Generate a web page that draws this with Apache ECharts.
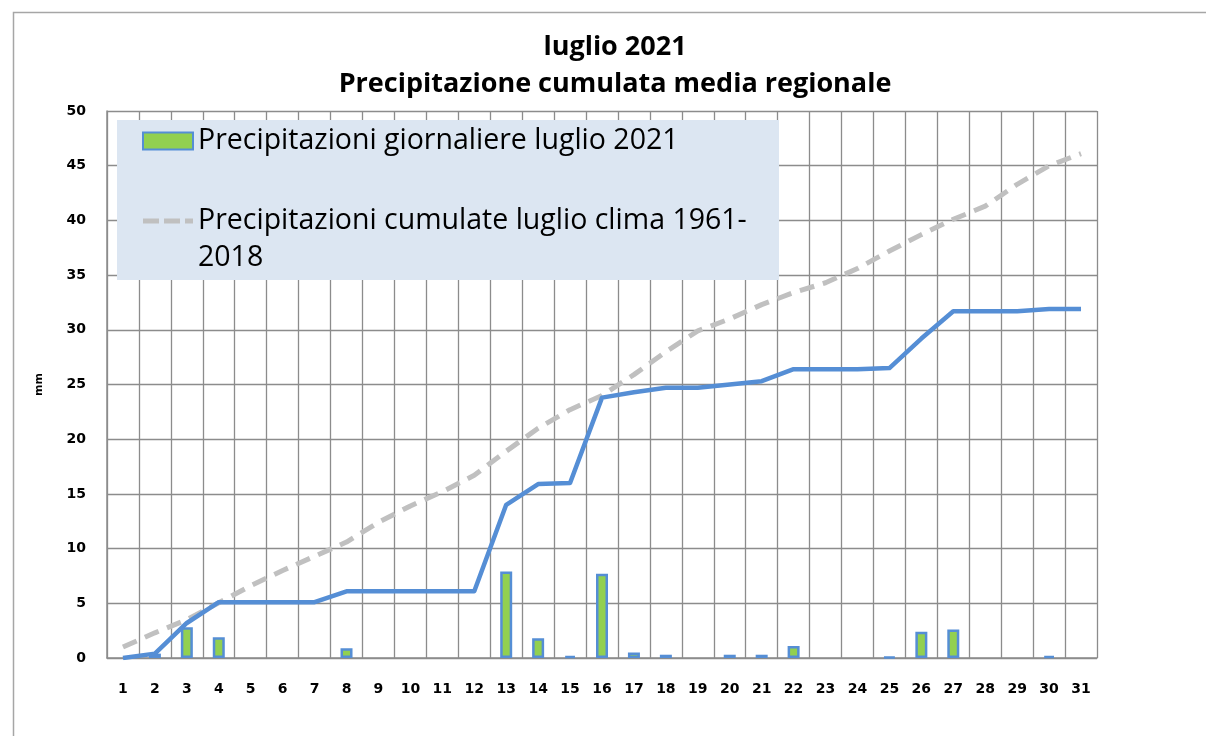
<!DOCTYPE html>
<html>
<head>
<meta charset="utf-8">
<script src="https://cdn.jsdelivr.net/npm/echarts@6/dist/echarts.min.js"></script>
<style>
html,body{margin:0;padding:0;background:#fff;}
#chart{width:1206px;height:736px;}
</style>
</head>
<body>
<div id="chart"></div>
<script>
// ---- data ----
const days = ['1','2','3','4','5','6','7','8','9','10','11','12','13','14','15','16','17','18','19','20','21','22','23','24','25','26','27','28','29','30','31'];
const dailyRain = [0, 0.4, 2.8, 1.9, 0, 0, 0, 0.9, 0, 0, 0, 0, 7.9, 1.8, 0.2, 7.7, 0.5, 0.3, 0, 0.3, 0.3, 1.1, 0, 0, 0.1, 2.4, 2.6, 0, 0, 0.2, 0];
const cumulative2021 = [0, 0.4, 3.2, 5.1, 5.1, 5.1, 5.1, 6.1, 6.1, 6.1, 6.1, 6.1, 14.0, 15.9, 16.0, 23.8, 24.3, 24.7, 24.7, 25.0, 25.3, 26.4, 26.4, 26.4, 26.5, 29.2, 31.7, 31.7, 31.7, 31.9, 31.9];
const climaCumulative = [1.0, 2.3, 3.5, 5.05, 6.6, 8.0, 9.3, 10.6, 12.4, 13.9, 15.2, 16.7, 18.9, 21.0, 22.7, 24.0, 25.9, 28.0, 29.9, 31.0, 32.3, 33.4, 34.3, 35.6, 37.2, 38.7, 40.1, 41.3, 43.3, 45.0, 46.1];
const yTicks = [0, 5, 10, 15, 20, 25, 30, 35, 40, 45, 50];

const nameBars = 'Precipitazioni giornaliere luglio 2021';
const nameClima = 'Precipitazioni cumulate luglio clima 1961-2018';
const nameCum = 'Precipitazione cumulata luglio 2021';

const chart = echarts.init(document.getElementById('chart'));
const option = {
  backgroundColor: '#ffffff',
  animation: false,
  title: {
    text: 'luglio 2021\nPrecipitazione cumulata media regionale',
    left: 615, top: 29, padding: 0,
    textAlign: 'center',
    textStyle: { fontFamily: 'Open Sans', fontWeight: 'bold', fontSize: 27, lineHeight: 37, color: '#000' }
  },
  graphic: [
    { type: 'rect', z: -10, silent: true,
      shape: { x: 13.5, y: 12.5, width: 1300, height: 1000 },
      style: { fill: 'none', stroke: '#a6a6a6', lineWidth: 1.5 } },
    { type: 'rect', z: 3, silent: true,
      shape: { x: 117, y: 120, width: 662, height: 160 },
      style: { fill: '#dce6f2' } }
  ],
  legend: {
    orient: 'vertical',
    left: 142, top: 122.5, padding: 0,
    itemGap: 6,
    itemWidth: 50, itemHeight: 17,
    textStyle: { fontFamily: 'Open Sans', fontSize: 28.5, lineHeight: 37, color: '#000' },
    formatter: function (n) { return n === nameClima ? ' \nPrecipitazioni cumulate luglio clima 1961-\n2018' : n; },
    data: [
      { name: nameBars, icon: 'rect' },
      { name: nameClima, icon: 'path://M0,0h16v5h-16z M21,0h16v5h-16z M42,0h8v5h-8z' }
    ]
  },
  grid: { left: 107, right: 109, top: 111, bottom: 78, containLabel: false },
  xAxis: {
    type: 'category',
    data: days,
    boundaryGap: true,
    axisLine: { show: true, lineStyle: { color: '#8c8c8c', width: 1.5 } },
    axisTick: { show: false },
    splitLine: { show: true, lineStyle: { color: '#8c8c8c', width: 1.3 } },
    axisLabel: { margin: 24, interval: 0, fontFamily: 'DejaVu Sans', fontWeight: 'bold', fontSize: 14, color: '#000' }
  },
  yAxis: {
    type: 'value',
    min: 0, max: 50, interval: 5,
    name: 'mm',
    nameLocation: 'middle',
    nameGap: 62,
    nameTextStyle: { fontFamily: 'DejaVu Sans', fontWeight: 'bold', fontSize: 11, color: '#000' },
    axisLine: { show: true, lineStyle: { color: '#8c8c8c', width: 1.5 } },
    axisTick: { show: false },
    splitLine: { show: true, lineStyle: { color: '#8c8c8c', width: 1.3 } },
    axisLabel: {
      margin: 21, fontFamily: 'DejaVu Sans', fontWeight: 'bold', fontSize: 14, color: '#000',
      formatter: function (v) { return yTicks.indexOf(v) >= 0 ? String(v) : ''; }
    }
  },
  series: [
    {
      name: nameBars, type: 'bar', barWidth: 12, z: 2,
      data: dailyRain.map(function (v) { return v === 0 ? null : v; }),
      itemStyle: { color: '#92d050', borderColor: '#558ed5', borderWidth: 2.5 }
    },
    {
      name: nameClima, type: 'line', data: climaCumulative, symbol: 'none', z: 2,
      lineStyle: { color: '#c0c0c0', width: 5, type: [15, 9] },
      itemStyle: { color: '#c0c0c0' }
    },
    {
      name: nameCum, type: 'line', data: cumulative2021, symbol: 'none', z: 2,
      lineStyle: { color: '#558ed5', width: 4.5, join: 'round' },
      itemStyle: { color: '#558ed5' }
    }
  ]
};
chart.setOption(option);
</script>
</body>
</html>
